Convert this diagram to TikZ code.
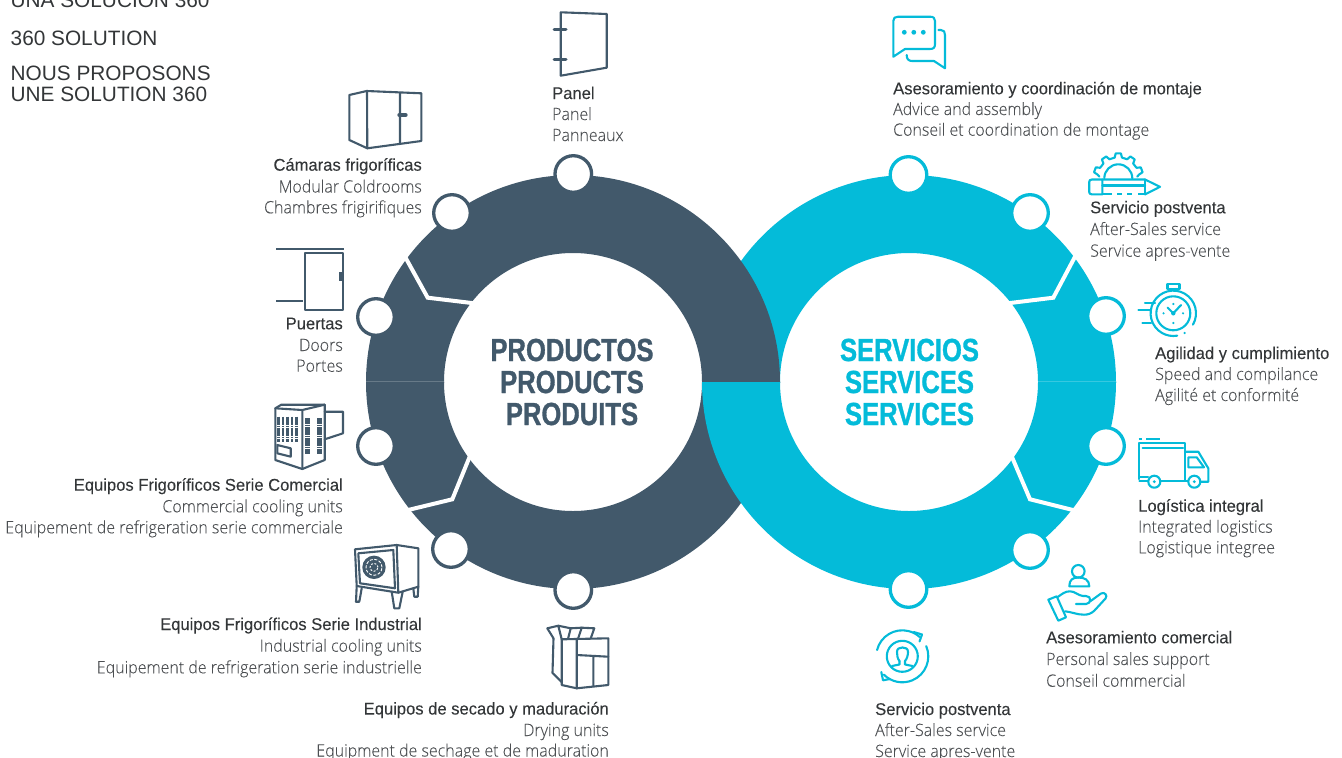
\documentclass[tikz,border=0pt]{standalone}
\usepackage{fontspec}
\setmainfont{Liberation Sans}
\newfontfamily\lightf[FakeStretch=0.94,FakeBold=0.12]{Open Sans Light}
\newfontfamily\regf[FakeStretch=0.975,FakeBold=0.1]{Liberation Sans}
\newfontfamily\boldf[FakeStretch=0.80,FakeBold=1]{Liberation Sans Bold}
\definecolor{slate}{HTML}{42596B}
\definecolor{cyanx}{HTML}{04BBD9}
\definecolor{headtxt}{HTML}{333638}
\definecolor{subtxt}{HTML}{4C4F52}
\tikzset{
  ring/.style={even odd rule,draw=none},
  gap/.style={draw=white,line width=4pt,line join=miter},
  dotd/.style={draw=slate,fill=white,line width=3.3pt},
  dotc/.style={draw=cyanx,fill=white,line width=3.3pt},
  icd/.style={draw=slate,line width=2.1pt,line join=round,line cap=round},
  icc/.style={draw=cyanx,line width=2.1pt,line join=round,line cap=round},
  headt/.style={inner sep=0pt,text=headtxt,font=\regf\fontsize{17}{20}\selectfont},
  subt/.style={inner sep=0pt,text=subtxt,font=\lightf\fontsize{17}{20}\selectfont},
  bigt/.style={inner sep=0pt,font=\boldf\fontsize{32}{36}\selectfont},
  topt/.style={inner sep=0pt,anchor=base west,text=headtxt,font=\fontsize{20.8}{22}\selectfont},
}
\newcommand{\trio}[9]{%
  \node[headt,anchor=base #2] (#1a) at (#3,#4) {#7};
  \node[subt,anchor=base #2] (#1b) at (#3,#5) {#8};
  \node[subt,anchor=base #2] (#1c) at (#3,#6) {#9};
}
\begin{document}
\begin{tikzpicture}[x=1pt,y=-1pt]
\useasboundingbox (0,0) rectangle (1342,758);
\coordinate (L) at (573,382);
\coordinate (R) at (909,382);
% upper half of the rings
\begin{scope}
  \clip (300,100) rectangle (1200,382);
  \fill[cyanx,ring] (R) circle (207pt) (R) circle (129pt);
  \fill[slate,ring] (L) circle (207pt) (L) circle (129pt);
\end{scope}
% lower half of the rings
\begin{scope}
  \clip (300,382) rectangle (1200,650);
  \fill[slate,ring] (L) circle (207pt) (L) circle (129pt);
  \fill[cyanx,ring] (R) circle (207pt) (R) circle (129pt);
\end{scope}
% seams
\draw[white,opacity=.2,line width=.5pt] (366,381.6) -- (444,381.6) (1038,381.6) -- (1116,381.6);
% gaps
\draw[gap] (403,253) -- (427.7,297.7) -- (480,304);
\draw[gap] (404,511) -- (452.3,499.3) -- (472,451);
\draw[gap] (1078,251) -- (1053.3,297.7) -- (1002,304);
\draw[gap] (1077,511) -- (1030,499.3) -- (1009,450);
% dots
\foreach \n/\x/\y in {a/573.3/174,b/452/213,c/376/317,d/376/446,e/451/549,f/573.3/590}
  \draw[dotd] (\x,\y) circle (18.3pt);
\foreach \n/\x/\y in {a/908.5/175,b/1030/213,c/1106/316,d/1106/446,e/1030/550,f/908.5/589}
  \draw[dotc] (\x,\y) circle (18.3pt);
% centre texts
\node[bigt,text=slate] (p1) at (572,350) {PRODUCTOS};
\node[bigt,text=slate] (p2) at (572,382) {PRODUCTS};
\node[bigt,text=slate] (p3) at (572,414) {PRODUITS};
\node[bigt,text=cyanx] (s1) at (909.5,350) {SERVICIOS};
\node[bigt,text=cyanx] (s2) at (909.5,382) {SERVICES};
\node[bigt,text=cyanx] (s3) at (909.5,414) {SERVICES};
% top-left
\node[topt] (t1) at (10.5,7.3) {UNA SOLUCIÓN 360};
\node[topt] (t2) at (10.5,45) {360 SOLUTION};
\node[topt] (t3) at (10.5,80.7) {NOUS PROPOSONS};
\node[topt] (t4) at (10.5,101.7) {UNE SOLUTION 360};
% labels
\trio{panel}{west}{552}{99}{120}{141}{Panel}{Panel}{Panneaux}
\trio{cam}{east}{422}{170.7}{192.5}{213.3}{Cámaras frigoríficas}{Modular Coldrooms}{Chambres frigirifiques}
\trio{pue}{east}{343}{329.3}{351}{371.7}{Puertas}{Doors}{Portes}
\trio{com}{east}{343}{490.7}{512.3}{533.3}{Equipos Frigoríficos Serie Comercial}{Commercial cooling units}{Equipement de refrigeration serie commerciale}
\trio{ind}{east}{422}{630}{651.7}{673.3}{Equipos Frigoríficos Serie Industrial}{Industrial cooling units}{Equipement de refrigeration serie industrielle}
\trio{sec}{east}{609}{714.5}{736}{756.5}{Equipos de secado y maduración}{Drying units}{Equipment de sechage et de maduration}
\trio{ase}{west}{893}{94.3}{115}{135.7}{Asesoramiento y coordinación de montaje}{Advice and assembly}{Conseil et coordination de montage}
\trio{pv}{west}{1090}{213.3}{235}{256.7}{Servicio postventa}{After-Sales service}{Service apres-vente}
\trio{agi}{west}{1155}{359}{380}{401}{Agilidad y cumplimiento}{Speed and compilance}{Agilité et conformité}
\trio{log}{west}{1138}{511.7}{532.7}{553.3}{Logística integral}{Integrated logistics}{Logistique integree}
\trio{acm}{west}{1046}{643.3}{665}{686.7}{Asesoramiento comercial}{Personal sales support}{Conseil commercial}
\trio{pvb}{west}{875}{715}{736}{757}{Servicio postventa}{After-Sales service}{Service apres-vente}
% ---- icons, dark
% panel
\draw[icd] (560.7,12.3) -- (606.7,14) -- (606.7,67.7) -- (560.7,75.7) -- cycle;
\draw[icd,line width=3pt] (554,29.3) -- (566,29.3) (554,59) -- (566,59);
% coldroom
\draw[icd] (349.3,95) -- (366.7,91) -- (421.3,93.3) -- (421.3,141) -- (367.3,148.3) -- (349.3,140) -- cycle;
\draw[icd] (367,91) -- (367.3,148.3) (400,93) -- (400,143.5);
\draw[icd,line width=4.4pt] (399.5,115) -- (405.5,115);
% door
\draw[icd,line cap=butt] (276,249) -- (343.5,249) (276,300.7) -- (302.7,300.7);
\draw[icd] (305,253.3) rectangle (343.3,310);
\draw[icd,line width=3pt,line cap=butt] (340.5,272) -- (340.5,281);
% commercial unit
\draw[icd] (275.3,408.3) -- (281.3,404.7) -- (324.7,404.7) -- (324.7,460) -- (302.3,469) -- (275.3,460) -- cycle;
\draw[icd] (275.3,408.3) -- (302.3,410) -- (324.7,404.7) (302.3,410) -- (302.3,469);
\draw[icd] (324.7,411.7) -- (343,411.7) -- (343,433.3) -- (324.7,439.3);
\draw[icd] (277.3,445) -- (290.7,448.3) -- (290.7,456.7) -- (277.3,453.3) -- cycle;
\foreach \x in {278.7,283,287.3,292,296.3}
  \draw[slate,line width=2.9pt,dash pattern=on 1.8pt off .4pt] (\x,416.7) -- (\x,441.7);
\foreach \x in {306.5,309,318.5,321}
  \draw[slate,line width=2.6pt,dash pattern=on 1.8pt off .4pt] (\x,418) -- (\x,454);
% industrial unit
\draw[icd] (355,549.3) -- (396.7,545) -- (418.3,548.3) -- (418.3,586.7) -- (398.3,592.7) -- (356.7,586) -- cycle;
\draw[icd] (396.7,545) -- (398.3,592.7);
\draw[icd] (358.3,553.3) -- (393.3,550) -- (395,588.3) -- (360,583.3) -- cycle;
\fill[slate] (374,567.3) circle (11.7pt);
\draw[white,line width=.9pt,dash pattern=on 3pt off 1.6pt] (374,567.3) circle (8pt);
\draw[white,line width=.9pt,dash pattern=on 2pt off 1.6pt] (374,567.3) circle (4pt);
\draw[icd] (356.7,586) -- (356,601.7) -- (359.3,601.7) -- (361.7,588.3);
\draw[icd] (391.7,591.7) -- (394.3,608.3) -- (399.3,608.3) -- (402.7,591.7);
\draw[icd] (413.3,588.3) -- (414.3,596.7) -- (417.7,596.7) -- (418.3,586.7);
% drying unit
\draw[icd] (561.7,639.3) -- (608.3,638.3) -- (608.3,685) -- (576.7,688.3) -- (561.7,685) -- cycle;
\draw[icd] (576.7,638.8) -- (576.7,688.3) (576.7,655) -- (608.3,656.7) (593.3,656) -- (593.3,686);
\draw[icd] (553.5,638.3) -- (552.5,673) -- (561.7,682);
\draw[icd] (553.5,638.3) -- (547.3,628.3) -- (558.3,625.7) -- (561.7,639.3);
\draw[icd] (558.3,625.7) -- (570.7,628.3) -- (568,639);
\draw[icd] (570.7,628.3) -- (581.7,627.7) -- (578,638.8);
\draw[icd] (581.7,627.7) -- (594.3,628.3) -- (590.7,638.5);
% ---- icons, cyan
% chat
\draw[icc] (893.3,56.7) -- (893.3,21) .. controls (893.3,18) and (895,16.7) .. (898,16.7) -- (930,16.7) .. controls (933.5,16.7) and (935,18) .. (935,21) -- (935,44) .. controls (935,47.5) and (933.5,49) .. (930,49) -- (905,49) -- cycle;
\fill[cyanx] (904.3,32.3) circle (2.4pt) (913.8,32.3) circle (2.4pt) (923.3,32.3) circle (2.4pt);
\draw[icc] (938.3,30) -- (941,30) .. controls (944,30) and (945,32) .. (945,35) -- (945,68.3) -- (934,61) -- (912,61) .. controls (908.5,61) and (906.7,59) .. (906.7,55);
% gear + pencil
\begin{scope}[shift={(1118.3,178.3)}]
  \draw[icc] (5:19pt) \foreach \a in {20,55,90,125,160} { -- (\a-10:21pt) -- (\a-6:25pt) -- (\a+6:25pt) -- (\a+10:21pt) } -- (175:19pt);
  \draw[icc] (0:14pt) arc (0:180:14pt);
\end{scope}
\draw[icc] (1102.3,179.5) -- (1092,179.5) .. controls (1090,179.5) and (1089.2,180.5) .. (1089.2,182) -- (1089.2,192) .. controls (1089.2,193.5) and (1090,194.4) .. (1092,194.4) -- (1102.3,194.4) -- cycle;
\draw[icc] (1102.3,179.5) -- (1145,179.5) -- (1160,186.8) -- (1145,194.4);
\draw[icc] (1145,179.5) -- (1145,194.4);
\draw[icc] (1102.3,185.5) -- (1145,185.5);
\draw[icc,line cap=butt] (1102.3,194.4) -- (1112,194.4) (1117,194.4) -- (1122,194.4) (1127,194.4) -- (1132,194.4) (1138,194.4) -- (1145,194.4);
% stopwatch
\begin{scope}[shift={(1173.3,313.3)}]
  \draw[icc] (-30:22.7pt) arc (-30:280:22.7pt);
  \fill[cyanx] (-60:22.7pt) circle (1.2pt);
  \draw[icc] (0,0) circle (17pt);
\end{scope}
\fill[cyanx] (1173.3,313.3) circle (2.2pt);
\draw[icc] (1173.3,313.3) -- (1167.5,307.5) (1173.3,313.3) -- (1181,305);
\draw[icc] (1167.5,284.3) -- (1179.5,284.3) -- (1179.5,289) -- (1167.5,289) -- cycle (1171,289) -- (1171,291) (1176,289) -- (1176,291);
\foreach \p in {(1173.3,304),(1173.3,323),(1163.5,313.3),(1183,313.3)} \fill[cyanx] \p circle (1.2pt);
\draw[icc] (1145,303.3) -- (1155,303.3) (1138.3,310) -- (1151,310) (1142.3,323) -- (1151,323);
% truck
\draw[icc] (1139.3,479) -- (1139.3,443.3) -- (1185,443.3) -- (1185,480);
\draw[icc] (1142.7,448.3) -- (1183,448.3);
\draw[icc,line cap=butt] (1138.5,439) -- (1141.5,439) (1146,439) -- (1159.5,439);
\draw[icc] (1139.3,477) -- (1148,477) (1139.3,481) -- (1148,481) (1160.5,481) -- (1188,481);
\draw[icc] (1185,451.7) -- (1198.3,451.7) -- (1208.3,468.3) -- (1208.3,481.7) -- (1200.5,481.7);
\draw[icc] (1188.3,457.3) -- (1196.7,457.3) -- (1204,467.3) -- (1188.3,467.3) -- cycle;
\draw[icc] (1154.3,481.7) circle (6pt) (1194.3,481.7) circle (6pt);
\fill[cyanx] (1154.3,481.7) circle (1.6pt) (1194.3,481.7) circle (1.6pt);
% hand
\draw[icc] (1078.3,571.3) circle (6.3pt);
\draw[icc] (1069.3,586.3) .. controls (1069.3,579.5) and (1073,577.5) .. (1078.3,577.5) .. controls (1084,577.5) and (1089.3,579.5) .. (1089.3,586.3) -- cycle;
\draw[icc] (1048.3,599.7) -- (1056.7,596.3) -- (1066,617.3) -- (1058.3,620.7) -- cycle;
\draw[icc] (1057.3,597.3) .. controls (1062,594) and (1065,591.3) .. (1070,591.3) .. controls (1075,591.3) and (1078,595.5) .. (1083,596) -- (1086,596) .. controls (1092,596) and (1091,604) .. (1086,604) -- (1076,604);
\draw[icc] (1090,601.5) -- (1101,593.5) .. controls (1104.5,591.5) and (1108,595.5) .. (1105.5,598.5) -- (1094.5,610.5) .. controls (1091.5,613.5) and (1088,614.7) .. (1084,614.7) .. controls (1077,614.7) and (1072,612) .. (1065,611.3);
% cycle
\begin{scope}[shift={(902.3,656.3)}]
  \draw[icc] (166:26pt) arc (166:48:26pt);
  \draw[icc] (23:26pt) arc (23:-135:26pt);
  \draw[icc] (0,0) circle (15.5pt);
\end{scope}
\draw[icc] (913.8,632) -- (922,634.5) -- (919.5,641.5);
\draw[icc] (881.3,672) -- (883,680.3) -- (890,679);
\draw[icc] (899.5,661) .. controls (897.5,659) and (897,655) .. (897,652) .. controls (897,648.5) and (899.5,647.5) .. (902.5,647.5) .. controls (905.5,647.5) and (908,648.5) .. (908,652) .. controls (908,655) and (907,659) .. (905,661);
\draw[icc] (899.5,661) -- (899.5,664.5) -- (892,666) (905,661) -- (905,664.5) -- (912.5,666);
\end{tikzpicture}
\end{document}
